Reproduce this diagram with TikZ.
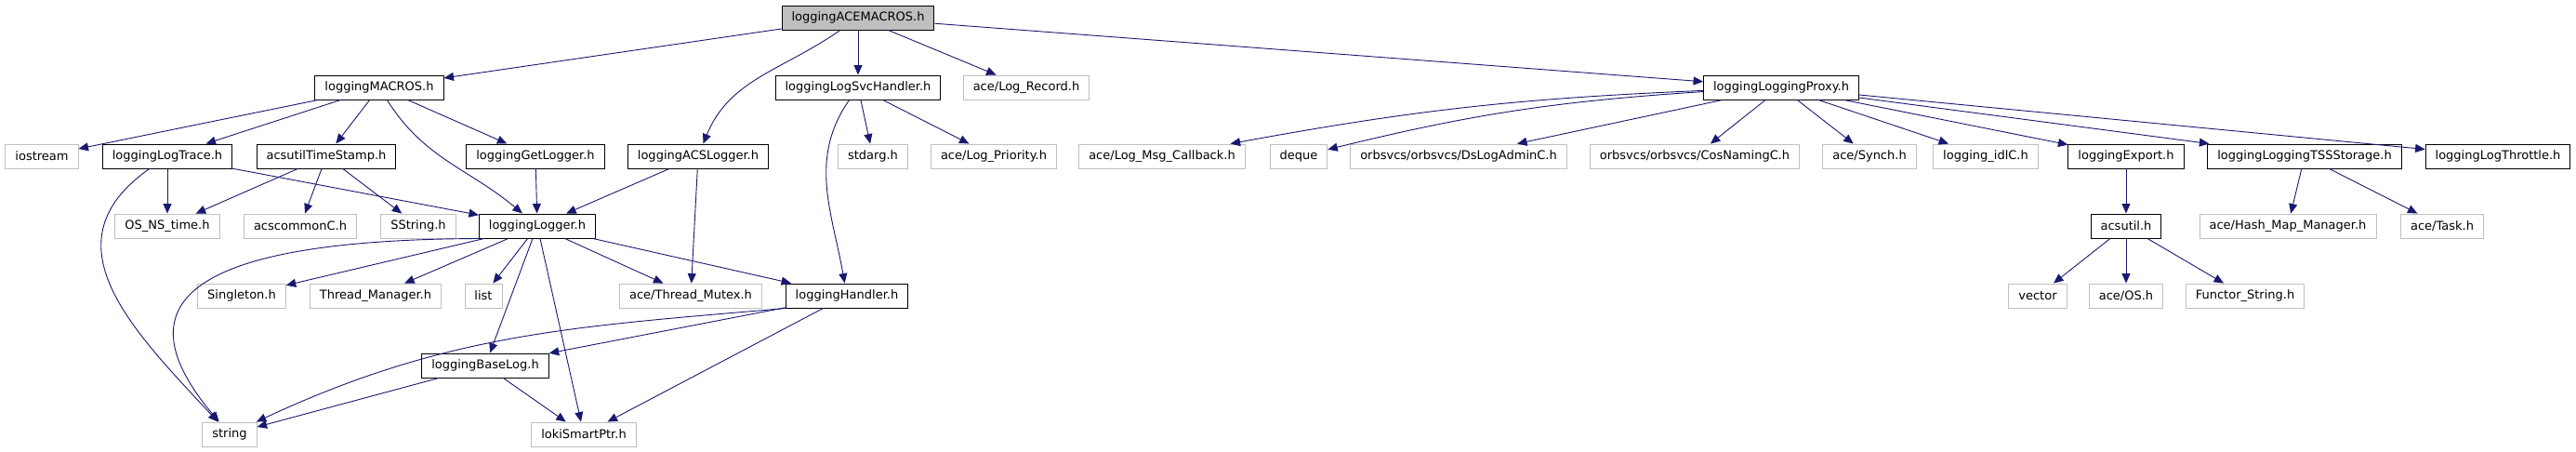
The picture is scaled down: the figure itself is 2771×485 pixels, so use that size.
\documentclass[tikz,border=0pt]{standalone}
\usepackage{fontspec}
\setmainfont{DejaVu Sans}
\usetikzlibrary{arrows.meta}
\definecolor{edgeblue}{HTML}{191970}
\definecolor{extgray}{HTML}{BFBFBF}
\tikzset{
    >={Triangle[length=10.5pt,width=9pt]},
    filebox/.style={
        rectangle,
        draw=black, line width=1pt,
        font=\fontsize{13}{15}\selectfont,
        inner xsep=10.5pt, inner ysep=0pt,
        minimum height=26pt
    },
    extbox/.style={filebox, draw=extgray, line width=0.9pt},
    topbox/.style={filebox, fill=extgray},
    dep/.style={draw=edgeblue, line width=0.9pt, ->}
}
\begin{document}
\begin{tikzpicture}[x=1pt, y=-1pt]
\useasboundingbox (0,0) rectangle (2771,485);
\node[topbox] (ACEM) at (923,19) {loggingACEMACROS.h};
\node[filebox] (MACROS) at (408,94) {loggingMACROS.h};
\node[filebox] (SVC) at (923,94) {loggingLogSvcHandler.h};
\node[extbox] (REC) at (1104,94) {ace/Log\_Record.h};
\node[filebox] (PROXY) at (1916,94) {loggingLoggingProxy.h};
\node[extbox] (IOS) at (45,168) {iostream};
\node[filebox] (TRACE) at (180,168) {loggingLogTrace.h};
\node[filebox] (STAMP) at (351,168) {acsutilTimeStamp.h};
\node[filebox] (GET) at (576,168) {loggingGetLogger.h};
\node[filebox] (ACSL) at (751,168) {loggingACSLogger.h};
\node[extbox] (STDARG) at (939,168) {stdarg.h};
\node[extbox] (PRIO) at (1069,168) {ace/Log\_Priority.h};
\node[extbox] (CALLBK) at (1250,168) {ace/Log\_Msg\_Callback.h};
\node[extbox] (DEQUE) at (1397,168) {deque};
\node[extbox] (DSLOG) at (1569,168) {orbsvcs/orbsvcs/DsLogAdminC.h};
\node[extbox] (COSNAM) at (1823,168) {orbsvcs/orbsvcs/CosNamingC.h};
\node[extbox] (SYNCH) at (2011,168) {ace/Synch.h};
\node[extbox] (IDLC) at (2136,168) {logging\_idlC.h};
\node[filebox] (EXPORT) at (2287,168) {loggingExport.h};
\node[filebox] (TSS) at (2479,168) {loggingLoggingTSSStorage.h};
\node[filebox] (THROT) at (2687,168) {loggingLogThrottle.h};
\node[extbox] (OSNS) at (180,243) {OS\_NS\_time.h};
\node[extbox] (COMMONC) at (323,243) {acscommonC.h};
\node[extbox] (SSTR) at (450,243) {SString.h};
\node[filebox] (LOGGER) at (578,243) {loggingLogger.h};
\node[filebox] (ACSUTIL) at (2287,243) {acsutil.h};
\node[extbox] (HASHMAP) at (2461,243) {ace/Hash\_Map\_Manager.h};
\node[extbox] (TASK) at (2627,243) {ace/Task.h};
\node[extbox] (SINGLE) at (260,318) {Singleton.h};
\node[extbox] (THRMGR) at (404,318) {Thread\_Manager.h};
\node[extbox] (LIST) at (520,318) {list};
\node[extbox] (MUTEX) at (743,318) {ace/Thread\_Mutex.h};
\node[filebox] (HANDLER) at (911,318) {loggingHandler.h};
\node[extbox] (VECTOR) at (2192,318) {vector};
\node[extbox] (OS) at (2287,318) {ace/OS.h};
\node[extbox] (FUNCTOR) at (2415,318) {Functor\_String.h};
\node[filebox] (BASELOG) at (522,393) {loggingBaseLog.h};
\node[extbox] (STRING) at (247,467) {string};
\node[extbox] (LOKI) at (628,467) {lokiSmartPtr.h};
\draw[dep] (ACEM) -- (MACROS);
\draw[dep] (ACEM) to[out=-145,in=68] (ACSL);
\draw[dep] (ACEM) -- (SVC);
\draw[dep] (ACEM) -- (REC);
\draw[dep] (ACEM) -- (PROXY);
\draw[dep] (MACROS) -- (IOS);
\draw[dep] (MACROS) -- (TRACE);
\draw[dep] (MACROS) -- (STAMP);
\draw[dep] (MACROS) to[out=-58,in=140] (LOGGER);
\draw[dep] (MACROS) -- (GET);
\draw[dep] (TRACE) to[out=-145,in=133,looseness=1.25] (STRING);
\draw[dep] (TRACE) -- (OSNS);
\draw[dep] (TRACE) -- (LOGGER);
\draw[dep] (STAMP) -- (OSNS);
\draw[dep] (STAMP) -- (COMMONC);
\draw[dep] (STAMP) -- (SSTR);
\draw[dep] (GET) -- (LOGGER);
\draw[dep] (ACSL) -- (LOGGER);
\draw[dep] (ACSL) -- (MUTEX);
\draw[dep] (LOGGER.south west) .. controls (170,258) and (140,340) .. (STRING);
\draw[dep] (LOGGER) -- (SINGLE);
\draw[dep] (LOGGER) -- (THRMGR);
\draw[dep] (LOGGER) -- (LIST);
\draw[dep] (LOGGER) -- (BASELOG);
\draw[dep] (LOGGER) -- (LOKI);
\draw[dep] (LOGGER) -- (MUTEX);
\draw[dep] (LOGGER) -- (HANDLER);
\draw[dep] (SVC) to[out=-125,in=100] (HANDLER);
\draw[dep] (SVC) -- (STDARG);
\draw[dep] (SVC) -- (PRIO);
\draw[dep] (PROXY) to[bend right=4] (CALLBK);
\draw[dep] (PROXY) to[bend right=5] (DEQUE);
\draw[dep] (PROXY) -- (DSLOG);
\draw[dep] (PROXY) -- (COSNAM);
\draw[dep] (PROXY) -- (SYNCH);
\draw[dep] (PROXY) -- (IDLC);
\draw[dep] (PROXY) -- (EXPORT);
\draw[dep] (PROXY) -- (TSS);
\draw[dep] (PROXY) -- (THROT);
\draw[dep] (EXPORT) -- (ACSUTIL);
\draw[dep] (TSS) -- (HASHMAP);
\draw[dep] (TSS) -- (TASK);
\draw[dep] (ACSUTIL) -- (VECTOR);
\draw[dep] (ACSUTIL) -- (OS);
\draw[dep] (ACSUTIL) -- (FUNCTOR);
\draw[dep] (HANDLER.south west) to[out=-175,in=25] (STRING);
\draw[dep] (HANDLER) -- (BASELOG);
\draw[dep] (HANDLER) -- (LOKI);
\draw[dep] (BASELOG) -- (STRING);
\draw[dep] (BASELOG) -- (LOKI);
\end{tikzpicture}
\end{document}
